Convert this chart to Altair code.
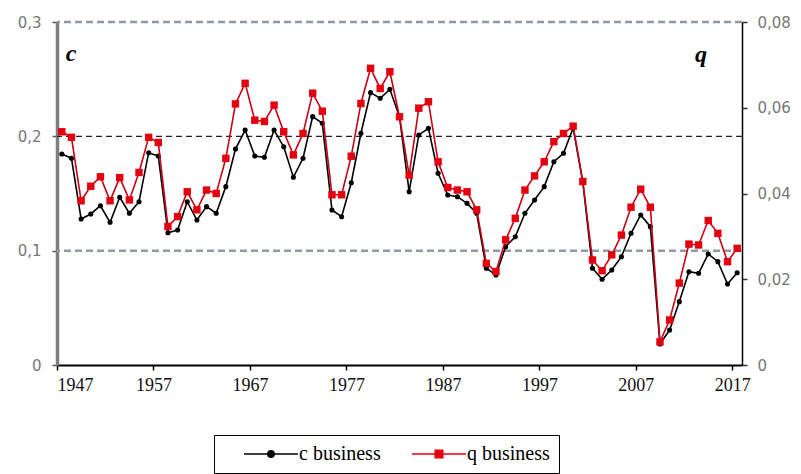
import altair as alt
import pandas as pd

years = list(range(1947, 2018))

c_business = [0.1845, 0.1808, 0.1277, 0.1321, 0.1393, 0.1248, 0.1467, 0.1327, 0.1428, 0.1857,
              0.1828, 0.1157, 0.1181, 0.1428, 0.1268, 0.1385, 0.1327, 0.1560, 0.1889, 0.2055,
              0.1828, 0.1817, 0.2055, 0.1909, 0.1642, 0.1808, 0.2172, 0.2114, 0.1356, 0.1297,
              0.1594, 0.2027, 0.2382, 0.2333, 0.2411, 0.2172, 0.1516, 0.2012, 0.2070, 0.1677,
              0.1487, 0.1472, 0.1414, 0.1327, 0.0846, 0.0787, 0.1035, 0.1122, 0.1327, 0.1443,
              0.1560, 0.1778, 0.1852, 0.2073, 0.1601, 0.0846, 0.0750, 0.0831, 0.0947, 0.1152,
              0.1312, 0.1210, 0.0184, 0.0306, 0.0554, 0.0816, 0.0802, 0.0971, 0.0904, 0.0708,
              0.0807]

q_business = [0.0544, 0.0531, 0.0383, 0.0417, 0.0439, 0.0383, 0.0437, 0.0385, 0.0449, 0.0531,
              0.0519, 0.0323, 0.0346, 0.0404, 0.0362, 0.0408, 0.0400, 0.0482, 0.0609, 0.0657,
              0.0571, 0.0568, 0.0606, 0.0544, 0.0490, 0.0540, 0.0634, 0.0592, 0.0397, 0.0397,
              0.0487, 0.0610, 0.0692, 0.0645, 0.0684, 0.0579, 0.0443, 0.0599, 0.0614, 0.0474,
              0.0414, 0.0408, 0.0404, 0.0362, 0.0237, 0.0218, 0.0292, 0.0342, 0.0408, 0.0441,
              0.0474, 0.0521, 0.0540, 0.0557, 0.0428, 0.0245, 0.0220, 0.0257, 0.0303, 0.0368,
              0.0410, 0.0368, 0.0054, 0.0105, 0.0191, 0.0282, 0.0280, 0.0337, 0.0307, 0.0241,
              0.0272]

series_names = ["c business", "q business"]
series_colors = ["#000000", "#e3000f"]
year_ticks = [1947, 1957, 1967, 1977, 1987, 1997, 2007, 2017]
c_ticks = [0, 0.1, 0.2, 0.3]
q_ticks = [0, 0.02, 0.04, 0.06, 0.08]
grid_gray = [0.1, 0.3]
grid_dark = [0.2]

df = pd.DataFrame({"year": years, "c": c_business, "q": q_business})
legend_df = pd.DataFrame({"series": series_names})

W, H = 685, 343

x_enc = alt.X(
    "xpos:Q",
    scale=alt.Scale(domain=[1947, 2018], nice=False, zero=False),
    axis=alt.Axis(
        values=year_ticks, format="d", title=None, grid=False,
        domainColor="#000000", domainWidth=2, tickColor="#000000", tickWidth=1.5,
        tickSize=5, labelFont="Liberation Serif", labelFontSize=18, labelColor="#111111",
        labelPadding=6,
    ),
)

# legend symbols: a short line with a marker in the middle (unit = 4 px)
c_path = "M-6.75,0L6.75,0M0.8,0A0.8,0.8,0,1,1,-0.8,0A0.8,0.8,0,1,1,0.8,0Z"
q_path = "M-6.75,0L6.75,0M-0.95,-0.95L0.95,-0.95L0.95,0.95L-0.95,0.95Z"

legend = alt.Legend(
    orient="none", legendX=157, legendY=413, direction="horizontal", title=None,
    labelFont="Liberation Serif", labelFontSize=20, labelColor="#000000",
    symbolSize=64, symbolStrokeWidth=1.5, symbolOpacity=1, symbolOffset=38,
    columnPadding=10, padding=9, labelOffset=18,
    strokeColor="#000000", fillColor="#ffffff",
)

base = alt.Chart(df).transform_calculate(xpos="datum.year + 0.5")

c_scale = alt.Scale(domain=[0, 0.3], nice=False, zero=True)
q_scale = alt.Scale(domain=[0, 0.08], nice=False, zero=True)

left_axis = alt.Axis(
    values=c_ticks, title=None, grid=False, orient="left",
    labelExpr="datum.value == 0 ? '0' : replace(format(datum.value, '.1f'), '.', ',')",
    domainColor="#7f7f7f", domainWidth=3.5, tickColor="#555555", tickWidth=1.5, tickSize=5,
    labelFont="DejaVu Sans", labelFontSize=15, labelColor="#777777", labelPadding=11,
)
right_axis = alt.Axis(
    values=q_ticks, title=None, grid=False, orient="right",
    labelExpr="datum.value == 0 ? '0' : replace(format(datum.value, '.2f'), '.', ',')",
    domainColor="#000000", domainWidth=1.5, tickColor="#333333", tickWidth=1.5, tickSize=5,
    labelFont="DejaVu Sans", labelFontSize=15, labelColor="#777777", labelPadding=10,
)

c_line = base.mark_line(strokeWidth=1.6, color=series_colors[0]).encode(
    x=x_enc, y=alt.Y("c:Q", scale=c_scale, axis=left_axis)
)
c_pts = base.mark_point(shape="circle", filled=True, size=26, color=series_colors[0], opacity=1).encode(
    x=x_enc, y=alt.Y("c:Q", scale=c_scale, axis=left_axis)
)

grid_g = alt.Chart(pd.DataFrame({"v": grid_gray})).mark_rule(
    color="#8e9aa4", strokeWidth=2.5, strokeDash=[7, 4]
).encode(y=alt.Y("v:Q", scale=c_scale, axis=left_axis))
grid_d = alt.Chart(pd.DataFrame({"v": grid_dark})).mark_rule(
    color="#222222", strokeWidth=1.3, strokeDash=[6, 4]
).encode(y=alt.Y("v:Q", scale=c_scale, axis=left_axis))

q_line = base.mark_line(strokeWidth=1.6, color="#c80014").encode(
    x=x_enc, y=alt.Y("q:Q", scale=q_scale, axis=right_axis)
)
q_pts = base.mark_point(shape="square", filled=True, size=55, color=series_colors[1], opacity=1).encode(
    x=x_enc, y=alt.Y("q:Q", scale=q_scale, axis=right_axis)
)

leg_scale_color = alt.Scale(domain=series_names, range=series_colors)
legend_layer = alt.Chart(legend_df).mark_point(filled=True, opacity=0, size=1).encode(
    x=alt.value(0), y=alt.value(0),
    color=alt.Color("series:N", scale=leg_scale_color, legend=legend),
    stroke=alt.Stroke("series:N", scale=leg_scale_color, legend=legend),
    shape=alt.Shape("series:N", scale=alt.Scale(domain=series_names, range=[c_path, q_path]), legend=legend),
)

c_label = alt.Chart(pd.DataFrame({"t": ["c"]})).mark_text(
    font="Liberation Serif", fontSize=24, fontWeight="bold", fontStyle="italic",
    color="#000000", align="center", baseline="middle"
).encode(text="t:N", x=alt.value(14), y=alt.value(32))

q_label = alt.Chart(pd.DataFrame({"t": ["q"]})).mark_text(
    font="Liberation Serif", fontSize=24, fontWeight="bold", fontStyle="italic",
    color="#000000", align="center", baseline="middle"
).encode(text="t:N", x=alt.value(644), y=alt.value(33))

left_layer = alt.layer(grid_g, grid_d, c_line, c_pts, c_label, legend_layer)
right_layer = alt.layer(q_line, q_pts, q_label)

chart = alt.layer(left_layer, right_layer).resolve_scale(y="independent").properties(
    width=W, height=H,
    autosize=alt.AutoSizeParams(type="none"),
    padding={"left": 49, "top": 14, "right": 51, "bottom": 110},
    background="#ffffff",
).configure_view(stroke=None)

chart.save("out.html", embed_options={"renderer": "svg", "actions": False})
